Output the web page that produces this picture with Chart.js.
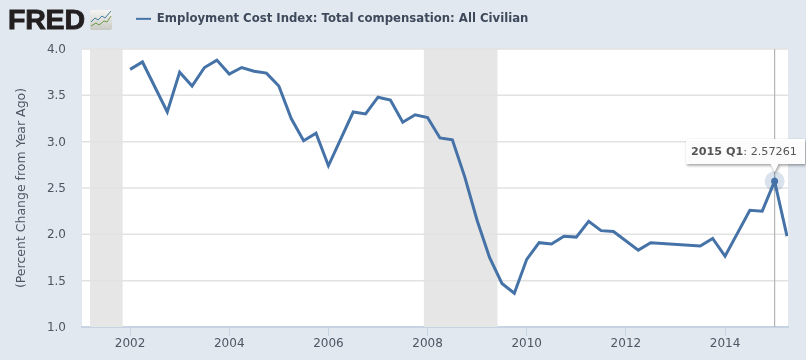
<!DOCTYPE html>
<html>
<head>
<meta charset="utf-8">
<script src="https://cdn.jsdelivr.net/npm/chart.js@4/dist/chart.umd.min.js"></script>
<style>
html,body{margin:0;padding:0;background:#e1e8f0;width:806px;height:360px;overflow:hidden}
#wrap{position:relative;width:806px;height:360px}
#logo{position:absolute;left:8px;top:-1px;font:bold 28.5px/40px "Liberation Sans",sans-serif;color:#231f20;-webkit-text-stroke:0.9px #231f20;letter-spacing:-0.2px}
#icon{position:absolute;left:90px;top:10px}
</style>
</head>
<body>
<div id="wrap">
<canvas id="c" width="806" height="360"></canvas>
<div id="logo">FRED</div>
<svg id="icon" width="22" height="20" viewBox="0 0 22 20">
<defs><linearGradient id="g" x1="0" y1="0" x2="0" y2="1"><stop offset="0" stop-color="#f4f4f2"/><stop offset="1" stop-color="#c9c9c4"/></linearGradient></defs>
<rect width="22" height="20" rx="2" fill="url(#g)"/>
<polyline points="1,12 5,8 8,10 12,6 15,8 21,1" fill="none" stroke="#3f7f9f" stroke-width="1"/>
<polyline points="1,16 6,13 9,15 14,11 17,12 21,6" fill="none" stroke="#6c9a4c" stroke-width="1"/>
</svg>
</div>
<script>
const seriesName = "Employment Cost Index: Total compensation: All Civilian";
const axisTitle = "(Percent Change from Year Ago)";
const years = [2002,2002.25,2002.75,2003,2003.25,2003.5,2003.75,2004,2004.25,2004.5,2004.75,2005,2005.25,2005.5,2005.75,2006,2006.5,2006.75,2007,2007.25,2007.5,2007.75,2008,2008.25,2008.5,2008.75,2009,2009.25,2009.5,2009.75,2010,2010.25,2010.5,2010.75,2011,2011.25,2011.5,2011.75,2012.25,2012.5,2013.5,2013.75,2014,2014.5,2014.75,2015,2015.25];
const values = [3.78,3.86,3.32,3.75,3.60,3.80,3.88,3.73,3.80,3.76,3.74,3.60,3.25,3.01,3.09,2.74,3.32,3.30,3.48,3.45,3.21,3.29,3.26,3.04,3.02,2.62,2.15,1.75,1.47,1.365,1.73,1.91,1.895,1.98,1.97,2.14,2.04,2.03,1.83,1.91,1.875,1.955,1.765,2.26,2.25,2.57261,1.98];
const xTicks = [2002,2004,2006,2008,2010,2012,2014];
const yTicks = [1,1.5,2,2.5,3,3.5,4];
const recessionStarts = [2001.19,2007.925];
const recessionEnds = [2001.85,2009.41];
const markedYear = 2015;
const markedLabel = "2015 Q1";
const markedValue = "2.57261";
const lineColor = "#4572a7";
const textColor = "#4d5663";
const tickFont = {family:"'DejaVu Sans'",size:12};

const decor = {
  id:'decor',
  beforeUpdate(chart){
    const lg = chart.legend;
    if(lg && !lg._wrapped){
      const f = lg.fit;
      lg.fit = function(){ f.call(this); this.height = 49; };
      lg._wrapped = true;
    }
  },
  afterLayout(chart){ if(chart.legend){ chart.legend.left = 123; } },
  beforeDatasetsDraw(chart){
    const {ctx,chartArea:a,scales:{x}} = chart;
    ctx.save();
    ctx.fillStyle = '#e6e6e6';
    recessionStarts.forEach((s,i)=>{
      const l = x.getPixelForValue(s), r = x.getPixelForValue(recessionEnds[i]);
      ctx.fillRect(l,a.top,r-l,a.bottom-a.top);
    });
    ctx.strokeStyle = '#e2e2e2'; ctx.lineWidth = 1.5;
    ctx.beginPath();
    yTicks.slice(1).forEach(v=>{
      const y = chart.scales.y.getPixelForValue(v);
      ctx.moveTo(a.left,y); ctx.lineTo(a.right,y);
    });
    ctx.stroke();
    const mx = x.getPixelForValue(markedYear);
    ctx.strokeStyle = '#b5b5b5'; ctx.lineWidth = 1.2;
    ctx.beginPath(); ctx.moveTo(mx,a.top); ctx.lineTo(mx,a.bottom); ctx.stroke();
    const el = chart.getDatasetMeta(0).data[years.indexOf(markedYear)];
    ctx.fillStyle = 'rgba(69,114,167,0.2)';
    ctx.beginPath(); ctx.arc(el.x,el.y,10,0,Math.PI*2); ctx.fill();
    ctx.restore();
  },
  afterDraw(chart){
    const {ctx} = chart;
    const el = chart.getDatasetMeta(0).data[years.indexOf(markedYear)];
    const bx = 686, by = 139, bw = 119, bh = 25, tipY = el.y-9;
    ctx.save();
    ctx.shadowColor = 'rgba(0,0,0,0.4)'; ctx.shadowBlur = 3; ctx.shadowOffsetX = 1; ctx.shadowOffsetY = 1.5;
    ctx.fillStyle = 'rgba(255,255,255,0.97)';
    ctx.beginPath();
    ctx.moveTo(bx,by); ctx.lineTo(bx+bw,by); ctx.lineTo(bx+bw,by+bh);
    ctx.lineTo(el.x+4,by+bh); ctx.lineTo(el.x,tipY); ctx.lineTo(el.x-4,by+bh);
    ctx.lineTo(bx,by+bh); ctx.closePath(); ctx.fill();
    ctx.shadowColor = 'transparent';
    ctx.textBaseline = 'middle'; ctx.textAlign = 'left';
    ctx.fillStyle = '#555555';
    ctx.font = "bold 11.2px 'DejaVu Sans'";
    ctx.fillText(markedLabel,691,by+13);
    const w = ctx.measureText(markedLabel).width;
    ctx.font = "11.2px 'DejaVu Sans'";
    ctx.fillText(": "+markedValue,691+w,by+13);
    ctx.restore();
  }
};

new Chart(document.getElementById('c'),{
  type:'scatter',
  data:{datasets:[{
    label:seriesName,
    data:years.map((x,i)=>({x,y:values[i]})),
    showLine:true,
    borderColor:lineColor,
    backgroundColor:lineColor,
    borderWidth:3,
    tension:0,
    pointRadius:c=>years[c.dataIndex]===markedYear?3.5:0,
    pointHoverRadius:c=>years[c.dataIndex]===markedYear?3.5:0,
    pointBackgroundColor:lineColor,
    pointBorderWidth:0
  }]},
  options:{
    responsive:false,
    animation:false,
    events:[],
    layout:{padding:{left:0,right:18,top:0,bottom:0}},
    plugins:{
      tooltip:{enabled:false},
      legend:{
        display:true,position:'top',align:'start',
        labels:{
          color:'#3e4a5b',
          font:{family:"'DejaVu Sans'",size:11.7,weight:'bold'},
          padding:13,
          boxWidth:15,boxHeight:2,
          generateLabels:ch=>[{text:seriesName,fillStyle:lineColor,strokeStyle:lineColor,lineWidth:0,fontColor:'#3e4a5b'}]
        }
      }
    },
    scales:{
      x:{
        type:'linear',min:2001.03,max:2015.27,
        afterBuildTicks:s=>{s.ticks=xTicks.map(v=>({value:v}));},
        afterFit:s=>{s.height=33;},
        grid:{drawOnChartArea:false,drawTicks:true,tickLength:9,color:'#c6d3e2'},
        border:{color:'#c6d3e2',width:2},
        ticks:{color:textColor,font:tickFont,maxRotation:0,autoSkip:false,padding:1,callback:v=>String(v)}
      },
      y:{
        type:'linear',min:1,max:4,
        afterBuildTicks:s=>{s.ticks=yTicks.map(v=>({value:v}));},
        afterFit:s=>{s.width=82;},
        grid:{display:false},
        border:{display:false},
        ticks:{color:textColor,font:{family:"'DejaVu Sans'",size:12},padding:8,labelOffset:1,autoSkip:false,callback:v=>v.toFixed(1)},
        title:{display:true,text:axisTitle,color:textColor,font:{family:"'DejaVu Sans'",size:12.5},padding:{top:14,bottom:0}}
      }
    }
  },
  plugins:[{
    id:'plotBg',
    beforeDraw(ch){
      const {ctx,chartArea:a}=ch;
      ctx.save();ctx.fillStyle='#ffffff';ctx.fillRect(a.left,a.top,a.right-a.left,a.bottom-a.top);ctx.restore();
    }
  },decor]
});
</script>
</body>
</html>
